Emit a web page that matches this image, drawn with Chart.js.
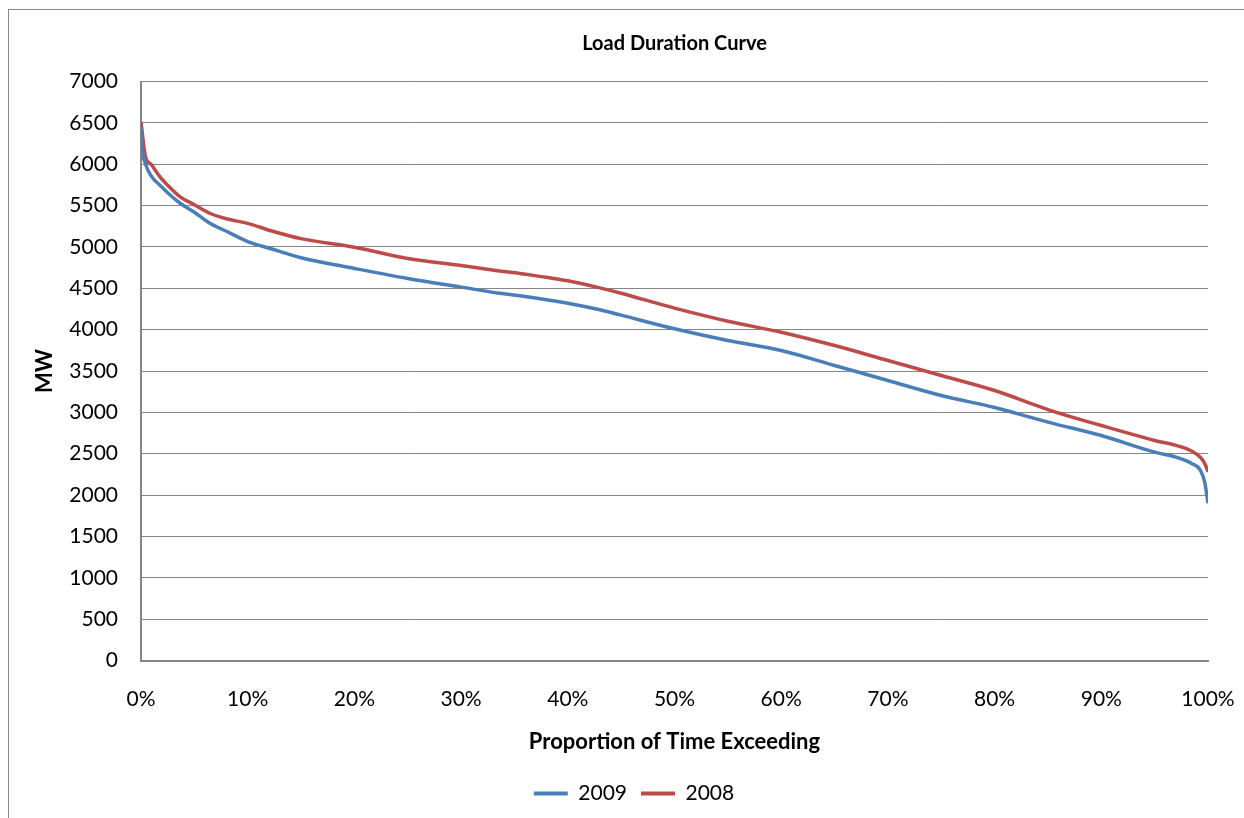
<!DOCTYPE html>
<html>
<head>
<meta charset="utf-8">
<script src="https://cdn.jsdelivr.net/npm/chart.js@4.4.1/dist/chart.umd.min.js"></script>
<style>
  html, body { margin: 0; padding: 0; background: #ffffff; overflow: hidden; width: 1244px; height: 818px; }
  #frame { position: absolute; left: 8px; top: 9px; width: 1400px; height: 1000px; border-top: 1px solid #8a8a8a; border-left: 1px solid #8a8a8a; }
  #wrap { position: absolute; left: 0; top: 0; width: 1244px; height: 818px; }
</style>
</head>
<body>
<div id="frame"></div>
<div id="wrap"><canvas id="c" width="1244" height="818"></canvas></div>
<script>
// Proportion of time exceeding (0..1)
const proportion = [0, 0.001, 0.004, 0.01, 0.018, 0.027, 0.037, 0.05, 0.065, 0.08, 0.1, 0.121, 0.15, 0.2, 0.25, 0.3, 0.336, 0.355, 0.4, 0.43, 0.45, 0.5, 0.55, 0.6, 0.65, 0.7, 0.75, 0.8, 0.85, 0.9, 0.95, 0.97, 0.985, 0.993, 0.997, 1];
// MW, 2009
const load2009 = [6450, 6200, 6010, 5850, 5743, 5630, 5525, 5420, 5283, 5190, 5065, 4981, 4870, 4740, 4618, 4514, 4440, 4410, 4320, 4240, 4175, 4010, 3869, 3748, 3567, 3385, 3204, 3059, 2882, 2720, 2519, 2458, 2380, 2297, 2150, 1900];
// MW, 2008
const load2008 = [6510, 6400, 6105, 5990, 5844, 5720, 5603, 5510, 5404, 5340, 5285, 5199, 5100, 4997, 4860, 4776, 4710, 4680, 4590, 4505, 4440, 4260, 4102, 3969, 3808, 3627, 3446, 3264, 3034, 2841, 2660, 2600, 2530, 2454, 2380, 2280];
const seriesNames = ['2009', '2008'];
const yTicks = [0, 500, 1000, 1500, 2000, 2500, 3000, 3500, 4000, 4500, 5000, 5500, 6000, 6500, 7000];
const xTicks = [0, 0.1, 0.2, 0.3, 0.4, 0.5, 0.6, 0.7, 0.8, 0.9, 1.0];

const FONT = "Lato, 'Open Sans', 'DejaVu Sans', sans-serif";
const toXY = (xs, ys) => xs.map((x, i) => ({ x: x, y: ys[i] }));

new Chart(document.getElementById('c'), {
  type: 'line',
  data: {
    datasets: [
      { label: seriesNames[0], data: toXY(proportion, load2009), borderColor: '#4a7ebb', backgroundColor: '#4a7ebb', borderWidth: 3.5, pointRadius: 0, cubicInterpolationMode: 'monotone' },
      { label: seriesNames[1], data: toXY(proportion, load2008), borderColor: '#be4b48', backgroundColor: '#be4b48', borderWidth: 3.5, pointRadius: 0, cubicInterpolationMode: 'monotone' }
    ]
  },
  options: {
    responsive: false,
    animation: false,
    events: [],
    layout: { padding: { left: 60, right: 36, top: 0, bottom: 4 } },
    plugins: {
      title: {
        display: true, text: 'Load Duration Curve', color: '#000000', fullSize: false,
        font: { family: FONT, size: 20, weight: 'bold', lineHeight: 1.2 },
        padding: { top: 32, bottom: 25.5 }
      },
      legend: {
        position: 'bottom',
        labels: {
          color: '#000000', boxWidth: 34, boxHeight: 4, padding: 14,
          font: { family: FONT, size: 21 },
          generateLabels(chart) {
            const items = Chart.defaults.plugins.legend.labels.generateLabels(chart);
            items.forEach(it => { it.lineWidth = 0; });
            return items;
          }
        }
      },
      tooltip: { enabled: false }
    },
    scales: {
      x: {
        type: 'linear', min: 0, max: 1,
        afterBuildTicks(scale) { scale.ticks = xTicks.map(v => ({ value: v })); },
        afterFit(scale) { scale.height = 108.5; scale.paddingLeft = 0; scale.paddingRight = 0; },
        ticks: {
          color: '#000000', padding: 26.4, maxRotation: 0, autoSkip: false,
          font: { family: FONT, size: 21, lineHeight: 1.2 },
          callback: v => Math.round(v * 100) + '%'
        },
        grid: { display: false, drawTicks: false },
        border: { display: true, color: '#868686', width: 2 },
        title: {
          display: true, text: 'Proportion of Time Exceeding', color: '#000000',
          font: { family: FONT, size: 22, weight: 'bold', lineHeight: 1.2 },
          padding: { top: 0, bottom: 14.3 }
        }
      },
      y: {
        min: 0, max: 7000,
        afterBuildTicks(scale) { scale.ticks = yTicks.map(v => ({ value: v })); },
        afterFit(scale) { scale.width = 81; },
        ticks: {
          color: '#000000', padding: 23,
          font: { family: FONT, size: 21, lineHeight: 1.2 },
          callback: v => String(v)
        },
        grid: { color: '#868686', lineWidth: 1, drawTicks: false },
        border: { display: true, color: '#868686', width: 2 },
        title: {
          display: true, text: 'MW', color: '#000000',
          font: { family: FONT, size: 22, weight: 'bold', lineHeight: 1.2 },
          padding: { top: -28.2, bottom: 0 }
        }
      }
    }
  }
});
</script>
</body>
</html>
